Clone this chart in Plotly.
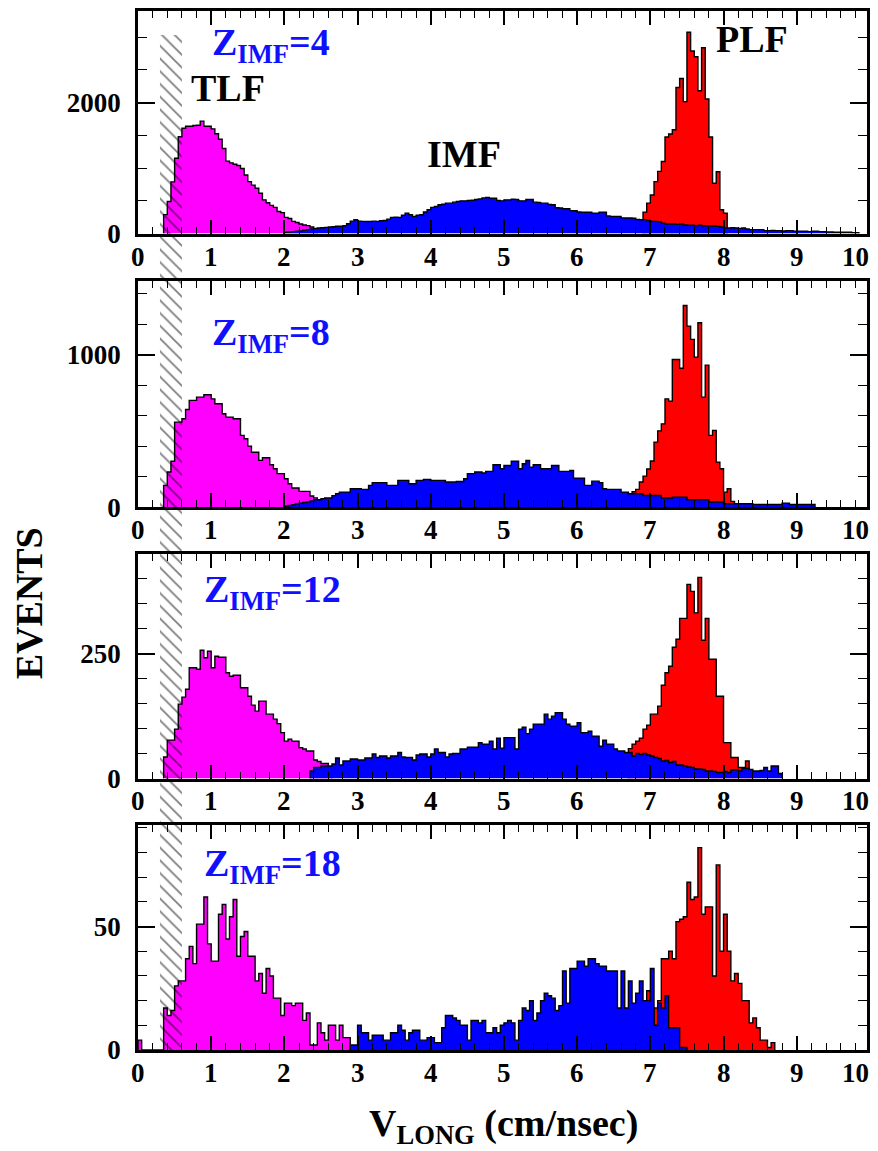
import numpy as np
import plotly.graph_objects as go

BIN = 0.05  # cm/nsec per histogram bin

# ---------------- data: events per bin ----------------
z_values = ["4", "8", "12", "18"]

# Z_IMF = 4
p1_tlf_start = 0.35
p1_tlf = [290, 490, 790, 1150, 1480, 1610, 1640, 1640, 1650, 1655, 1717, 1640, 1640, 1600, 1525, 1440,
          1300, 1106, 1080, 1060, 1040, 995, 894, 793, 740, 692, 616, 515, 470, 430, 400, 338, 320,
          247, 230, 187, 170, 146, 130, 121, 100, 60]
p1_imf_start = 2.00
p1_imf = [20, 25, 30, 35, 40, 50, 60, 70, 80, 86,
          90, 95, 100, 105, 111, 111, 120, 150, 190, 212,
          190, 187, 185, 187, 190, 187, 195, 200, 220, 247,
          250, 247, 280, 313, 290, 262, 280, 288, 330, 363,
          400, 414, 440, 450, 465, 465, 480, 490, 500, 500,
          505, 510, 520, 530, 545, 550, 540, 540, 505, 500,
          515, 515, 525, 520, 500, 500, 520, 520, 480, 475,
          465, 465, 445, 440, 395, 390, 380, 379, 350, 348,
          330, 328, 325, 328, 313, 313, 328, 328, 270, 262,
          262, 262, 240, 237, 237, 235, 215, 212, 212, 200,
          187, 187, 180, 160, 146, 146, 146, 140, 146, 130,
          126, 126, 120, 126, 120, 116, 116, 116, 110, 100,
          86, 86, 88, 86, 80, 86, 70, 61, 61, 60,
          61, 45, 45, 48, 45, 45, 40, 45, 45, 35,
          35, 35, 35, 30, 35, 35, 30, 30, 25, 25,
          20, 20, 20, 20, 20, 15, 15]
p1_plf_start = 6.90
p1_plf = [328, 465, 590, 793, 950, 1100, 1475, 1520, 1586, 2232, 2368, 2015, 3075, 2788, 2700, 2182,
          2838, 2055, 1475, 768, 944, 364, 313]

# Z_IMF = 8
p2_tlf_start = 0.35
p2_tlf = [142, 230, 300, 557, 557, 579, 640, 700, 700, 721, 721, 737, 737, 710, 678, 678, 612, 590,
          590, 579, 579, 470, 448, 400, 360, 360, 306, 323, 323, 278, 251, 219, 219, 186, 153, 125,
          125, 103, 103, 103, 72, 60]
p2_imf_start = 2.00
p2_imf = [5, 10, 15, 20, 25, 30, 33, 40, 48, 48,
          55, 59, 59, 75, 87, 98, 98, 98, 120, 120,
          120, 116, 116, 142, 160, 160, 160, 160, 142, 142,
          142, 175, 175, 175, 153, 153, 175, 175, 181, 181,
          175, 175, 175, 175, 164, 164, 164, 168, 168, 186,
          219, 219, 230, 230, 223, 234, 234, 278, 278, 251,
          273, 273, 300, 300, 251, 284, 306, 262, 278, 278,
          251, 251, 251, 273, 273, 234, 234, 234, 240, 190,
          190, 190, 142, 142, 170, 170, 160, 120, 116, 116,
          116, 116, 98, 98, 87, 87, 87, 87, 76, 76,
          76, 76, 76, 59, 59, 59, 65, 65, 65, 65,
          48, 48, 48, 48, 48, 48, 33, 33, 33, 33,
          22, 22, 22, 22, 22, 22, 22, 22, 17, 17,
          17, 17, 17, 17, 17, 17, 26, 26, 17, 17,
          17, 17, 17, 17, 17]
p2_plf_start = 6.75
p2_plf = [100, 116, 164, 203, 250, 302, 426, 500, 546, 710, 695, 968, 968, 911, 1322, 1187, 1100,
          984, 1209, 721, 931, 470, 503, 295, 251, 98, 120, 37, 22, 22, 10]

# Z_IMF = 12
p3_tlf_start = 0.35
p3_tlf = [43, 77, 77, 99, 149, 163, 179, 222, 222, 219, 257, 242, 255, 222, 245, 243, 243, 212, 205,
          207, 207, 182, 182, 165, 147, 135, 155, 155, 129, 129, 119, 110, 92, 75, 79, 75, 75, 62,
          59, 55, 55, 37, 34, 30, 30, 21]
p3_imf_start = 2.35
p3_imf = [15, 22, 22, 25, 25, 25, 29, 41, 27, 35, 35, 39, 39,
          37, 37, 41, 41, 49, 42, 45, 45, 41, 45, 45, 52, 43, 42, 42, 37, 47, 49, 49, 43,
          49, 59, 52, 52, 43, 49, 50, 50, 59, 59, 63, 63, 63, 72, 69, 69, 75, 59, 81, 61,
          82, 82, 82, 59, 99, 103, 90, 99, 109, 109, 109, 129, 119, 125, 132, 132, 119, 109, 105, 105,
          112, 92, 92, 95, 85, 85, 65, 77, 69, 69, 59, 55, 55, 52, 52, 45, 50, 48, 50, 47,
          45, 42, 40, 35, 36, 32, 34, 27, 27, 25, 23, 22, 19, 19, 18, 15, 15, 14, 12, 12,
          14, 12, 17, 17, 15, 20, 20, 18, 15, 15, 16, 22, 15, 25, 25, 10]
p3_plf_start = 6.70
p3_plf = [60, 69, 75, 81, 99, 107, 129, 129, 145, 187, 212, 225, 263, 279, 321, 321, 389, 375, 332,
          403, 277, 321, 239, 239, 165, 165, 72, 72, 42, 42, 22, 22, 35, 10]

# Z_IMF = 18
p4_tlf_start = 0.00
p4_tlf = [4, 0, 0, 0, 0, 0, 0,
          17, 14, 16, 26, 28, 28, 37, 42, 35, 51, 51, 62, 43,
          36, 36, 55, 59, 45, 54, 61, 38, 46, 48, 38, 38, 28, 31, 23, 33, 30, 21, 21, 14,
          19, 19, 18, 19, 19, 12, 15, 2, 2, 11, 7, 4, 10, 10, 4, 10, 5, 5]
p4_imf_start = 2.90
p4_imf = [2, 2,
          10, 7, 7, 4, 6, 6, 6, 4, 4, 7, 7, 10, 8, 4, 7, 8, 8, 4, 4, 5,
          5, 3, 3, 9, 14, 14, 13, 12, 10, 10, 4, 12, 12, 11, 12, 7, 7, 9, 7, 10,
          11, 12, 11, 4, 12, 17, 16, 20, 12, 15, 20, 23, 22, 21, 16, 18, 32, 19, 33, 33,
          36, 36, 34, 37, 37, 35, 34, 34, 32, 32, 32, 17, 32, 17, 28, 19, 23, 28, 20, 20,
          33, 10, 19, 17, 22, 9, 9, 9, 1, 1]
p4_plf_start = 6.95
p4_plf = [24, 10, 17, 20, 37, 37, 40, 37, 52, 53, 54, 68, 61, 62, 82, 55, 58, 58, 30, 75, 40, 55,
          40, 28, 31, 27, 20, 20, 11, 13, 9, 4, 4, 1, 3]

panels = [
    (p1_tlf_start, p1_tlf, p1_imf_start, p1_imf, p1_plf_start, p1_plf),
    (p2_tlf_start, p2_tlf, p2_imf_start, p2_imf, p2_plf_start, p2_plf),
    (p3_tlf_start, p3_tlf, p3_imf_start, p3_imf, p3_plf_start, p3_plf),
    (p4_tlf_start, p4_tlf, p4_imf_start, p4_imf, p4_plf_start, p4_plf),
]
y_max = [3400, 1480, 450, 91]
y_major = [2000, 1000, 250, 50]
y_minor = [500, 200, 50, 10]
x_max = 9.96
x_tickvals = list(range(0, 10))
# x tick labels: value -> where the label sits on the axis ("10" is squeezed inside the frame)
x_label_pos = [float(v) for v in range(0, 10)] + [9.8]
x_label_text = [str(v) for v in range(0, 11)]
hatch_x = (0.30, 0.60)  # velocity cut (hatched band)

COL_TLF, COL_IMF, COL_PLF = "#ff00ff", "#0000ff", "#ff0000"
SERIF = "Liberation Serif"

# ---------------- geometry ----------------
W, H = 878, 1151
L, R, T, B = 138, 8, 9, 101
PH = H - T - B
PW = W - L - R
panel_px = [(9, 232), (280, 506), (553, 778), (825, 1050)]


def py2p(py):
    return (H - B - py) / PH


def px2p(px):
    return (px - L) / PW


def step_xy(start, counts):
    edges = start + BIN * np.arange(len(counts) + 1)
    x = [edges[0]] + list(edges[:-1]) + [edges[-1]]
    y = [0] + list(counts) + [0]
    return x, y


fig = go.Figure()

for i, (ts, tc, is_, ic, ps, pc) in enumerate(panels):
    xa = "x" if i == 0 else f"x{i+1}"
    ya = "y" if i == 0 else f"y{i+1}"
    for start, counts, col in ((ts, tc, COL_TLF), (ps, pc, COL_PLF), (is_, ic, COL_IMF)):
        x, y = step_xy(start, counts)
        fig.add_trace(go.Scatter(
            x=x, y=y, mode="lines", line=dict(shape="hv", color="black", width=1.4),
            fill="tozeroy", fillcolor=col, xaxis=xa, yaxis=ya, showlegend=False,
            hoverinfo="skip"))

# hatched band (overlay axes spanning all panels)
fig.add_trace(go.Scatter(
    x=[hatch_x[0], hatch_x[1], hatch_x[1], hatch_x[0], hatch_x[0]],
    y=[0, 0, py2p(33), py2p(33), 0],
    mode="lines", line=dict(width=0, color="rgba(0,0,0,0)"),
    fill="toself", fillcolor="rgba(0,0,0,0)",
    fillpattern=dict(shape="\\", fgcolor="black", bgcolor="rgba(0,0,0,0)", size=9, solidity=0.2),
    xaxis="x5", yaxis="y5", showlegend=False, hoverinfo="skip"))

tickfont = dict(family=SERIF, size=27, color="black", weight="bold")
layout = dict(
    width=W, height=H, margin=dict(l=L, r=R, t=T, b=B),
    paper_bgcolor="white", plot_bgcolor="rgba(0,0,0,0)", showlegend=False,
)
for i in range(4):
    sx = "xaxis" if i == 0 else f"xaxis{i+1}"
    sy = "yaxis" if i == 0 else f"yaxis{i+1}"
    xname = "x" if i == 0 else f"x{i+1}"
    yname = "y" if i == 0 else f"y{i+1}"
    top, bot = panel_px[i]
    layout[sx] = dict(
        domain=[0, 1], anchor=yname, range=[0, x_max],
        tickmode="array", tickvals=x_tickvals, showticklabels=False,
        ticks="inside", ticklen=14, tickwidth=1.5, tickcolor="black",
        minor=dict(tickmode="linear", tick0=0, dtick=0.2, ticks="inside", ticklen=7,
                   tickwidth=1.2, tickcolor="black", showgrid=False),
        mirror="allticks", showline=True, linewidth=2.6, linecolor="black",
        showgrid=False, zeroline=False,
    )
    layout[sy] = dict(
        domain=[py2p(bot), py2p(top)], anchor=xname,
        range=[0, y_max[i]], tickmode="linear", tick0=0, dtick=y_major[i],
        ticks="inside", ticklen=17, tickwidth=1.5, tickcolor="black",
        minor=dict(tickmode="linear", tick0=0, dtick=y_minor[i], ticks="inside", ticklen=9,
                   tickwidth=1.2, tickcolor="black", showgrid=False),
        mirror="allticks", showline=True, linewidth=2.6, linecolor="black",
        showgrid=False, zeroline=False, tickfont=tickfont, ticklabelstandoff=9,
    )
layout["xaxis5"] = dict(domain=[0, 1], anchor="y5", range=[0, x_max], visible=False)
layout["yaxis5"] = dict(domain=[0, 1], anchor="x5", range=[0, 1], visible=False)
fig.update_layout(**layout)

big = dict(family=SERIF, size=38, color="black", weight="bold")
blue = dict(family=SERIF, size=38, color="#1010ff", weight="bold")
ann = []
z_pos = [(210, 43), (210, 334), (202, 591), (202, 866)]
for z, (zx, zy) in zip(z_values, z_pos):
    ann.append(dict(text=f"Z<sub>IMF</sub>={z}", x=px2p(zx), y=py2p(zy), xanchor="left",
                    yanchor="middle", font=blue, xref="paper"))
# x tick labels placed through each panel's x scale, a little below the frame
for i, (top, bot) in enumerate(panel_px):
    xname = "x" if i == 0 else f"x{i+1}"
    for pos, txt in zip(x_label_pos, x_label_text):
        ann.append(dict(text=txt, x=pos, xref=xname, y=py2p(bot + 23), xanchor="center",
                        yanchor="middle", font=tickfont))
ann.append(dict(text="TLF", x=px2p(228), y=py2p(86), xanchor="center", yanchor="middle",
                font=big, xref="paper"))
ann.append(dict(text="IMF", x=px2p(465), y=py2p(152), xanchor="center", yanchor="middle",
                font=big, xref="paper"))
ann.append(dict(text="PLF", x=px2p(755), y=py2p(37), xanchor="center", yanchor="middle",
                font=big, xref="paper"))
ann.append(dict(text="V<sub>LONG</sub> (cm/nsec)", x=px2p(505), y=py2p(1126), xanchor="center",
                yanchor="middle", font=big, xref="paper"))
ann.append(dict(text="EVENTS", x=px2p(28), y=py2p(602), xanchor="center", yanchor="middle",
                textangle=-90, font=big, xref="paper"))
for a in ann:
    a.update(yref="paper", showarrow=False)
fig.update_layout(annotations=ann)

fig.write_html("out.html")
